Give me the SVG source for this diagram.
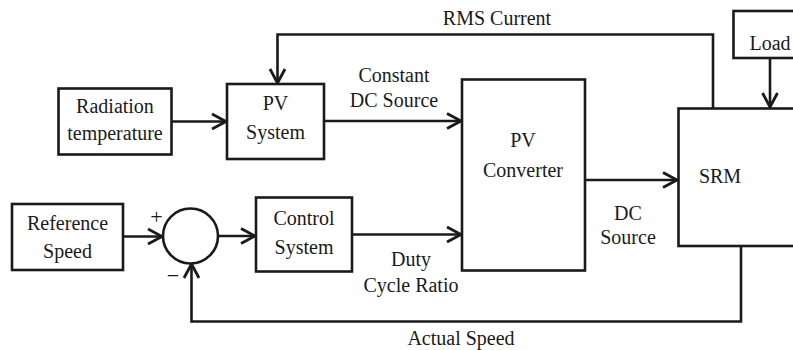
<svg xmlns="http://www.w3.org/2000/svg" width="793" height="350" viewBox="0 0 793 350" font-family="'Liberation Serif', 'DejaVu Serif', serif">
<style>
.box{fill:#fff;stroke:#1a1a1a;stroke-width:2.6}
.ln{fill:none;stroke:#1a1a1a;stroke-width:2.6}
text{font-family:'Liberation Serif','DejaVu Serif',serif;font-size:20px;fill:#1a1a1a;text-anchor:middle}
</style>
<defs>
<marker id="ah" markerUnits="userSpaceOnUse" markerWidth="20" markerHeight="20" viewBox="-16 -10 20 20" refX="0" refY="0" orient="auto">
<path d="M-14,-7.5 L0,0 L-14,7.5" fill="none" stroke="#1a1a1a" stroke-width="2.8"/>
</marker>
</defs>
<rect width="793" height="350" fill="#fff"/>
<g id="connectors">
<line class="ln" x1="172" y1="121.5" x2="226" y2="121.5" marker-end="url(#ah)"/>
<line class="ln" x1="324" y1="121" x2="461" y2="121" marker-end="url(#ah)"/>
<polyline class="ln" points="713,108 713,34.5 277.5,34.5 277.5,83" marker-end="url(#ah)"/>
<line class="ln" x1="770" y1="58" x2="770" y2="107" marker-end="url(#ah)"/>
<line class="ln" x1="585" y1="180" x2="677" y2="180" marker-end="url(#ah)"/>
<line class="ln" x1="123" y1="236.5" x2="162" y2="236.5" marker-end="url(#ah)"/>
<line class="ln" x1="218.5" y1="236" x2="255" y2="236" marker-end="url(#ah)"/>
<line class="ln" x1="352" y1="234.5" x2="461" y2="234.5" marker-end="url(#ah)"/>
<polyline class="ln" points="741,246 741,321.5 191.5,321.5 191.5,264" marker-end="url(#ah)"/>
</g>
<g id="radiation"><rect class="box" x="58.5" y="88.5" width="113" height="66"/><text x="115" y="113">Radiation</text><text x="115" y="140">temperature</text></g>
<g id="pv-system"><rect class="box" x="227" y="84" width="97" height="75"/><text x="275.5" y="110">PV</text><text x="275.5" y="139">System</text></g>
<g id="pv-converter"><rect class="box" x="462" y="79.5" width="123" height="191"/><text x="523" y="147">PV</text><text x="523" y="177">Converter</text></g>
<g id="srm"><rect class="box" x="678.5" y="108.5" width="130" height="137.5"/><text x="720" y="183">SRM</text></g>
<g id="load"><rect class="box" x="733.5" y="11" width="80" height="47"/><text x="770" y="50">Load</text></g>
<g id="reference"><rect class="box" x="12" y="204" width="111" height="66"/><text x="67.5" y="230">Reference</text><text x="67.5" y="258">Speed</text></g>
<g id="sum"><circle class="box" cx="190.5" cy="236" r="27.5"/><text x="156.5" y="224" style="font-size:22px">+</text><text x="173" y="283" style="font-size:22px">−</text></g>
<g id="control"><rect class="box" x="256" y="197.5" width="96" height="74"/><text x="304" y="225">Control</text><text x="304" y="254">System</text></g>
<g id="labels">
<text x="497" y="25">RMS Current</text>
<text x="394" y="82">Constant</text>
<text x="394" y="107">DC Source</text>
<text x="628" y="220">DC</text>
<text x="628" y="244">Source</text>
<text x="411" y="266">Duty</text>
<text x="411" y="292">Cycle Ratio</text>
<text x="461" y="345">Actual Speed</text>
</g>
</svg>
